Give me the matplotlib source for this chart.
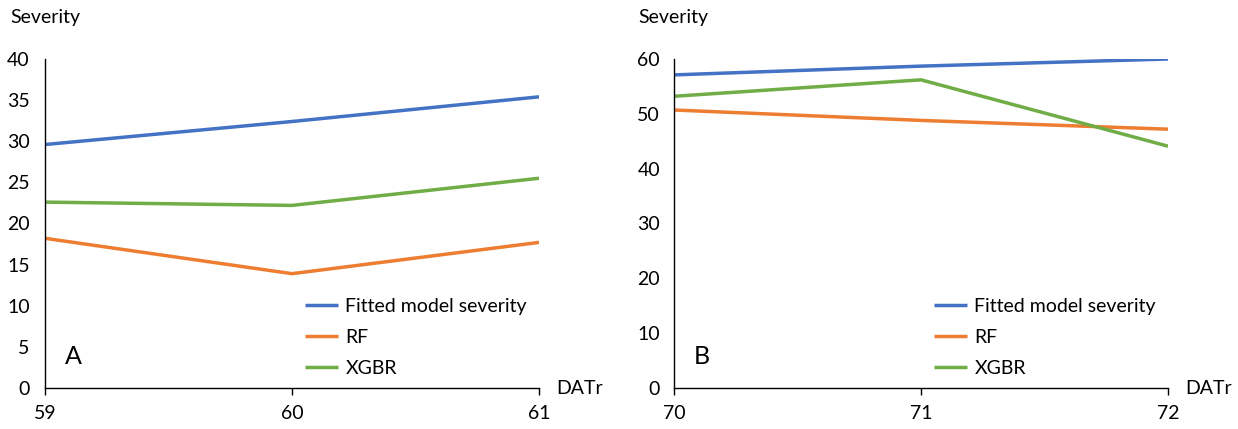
import matplotlib
matplotlib.use("Agg")
import matplotlib.pyplot as plt

plt.rcParams["font.family"] = ["Lato", "DejaVu Sans"]

series_names = ["Fitted model severity", "RF", "XGBR"]
colors = ["#4472C4", "#ED7D31", "#70AD47"]

# panel A
days_a = [59, 60, 61]
fitted_a = [29.6, 32.4, 35.4]
rf_a = [18.2, 13.9, 17.7]
xgbr_a = [22.6, 22.2, 25.5]

# panel B
days_b = [70, 71, 72]
fitted_b = [57.1, 58.7, 60.0]
rf_b = [50.7, 48.8, 47.2]
xgbr_b = [53.2, 56.2, 44.1]

W, H = 1238, 429
FS = 14
fig = plt.figure(figsize=(W / 100, H / 100), dpi=100)


def panel(left_px, days, ys, ymax, ystep, letter, ypad, sev_px):
    ax = fig.add_axes([left_px / W, 41 / H, 494 / W, 329 / H])
    for name, y, c in zip(series_names, ys, colors):
        ax.plot(days, y, color=c, linewidth=2.5, label=name, solid_capstyle="butt")
    ax.set_xlim(days[0], days[-1])
    ax.set_ylim(0, ymax)
    ax.set_xticks(days)
    ax.set_yticks(range(0, ymax + 1, ystep))
    for s in ("top", "right"):
        ax.spines[s].set_visible(False)
    for s in ("left", "bottom"):
        ax.spines[s].set_color("#000000")
        ax.spines[s].set_linewidth(1.0)
    ax.tick_params(axis="y", length=0, pad=ypad, labelsize=FS)
    ax.tick_params(axis="x", length=5, width=1.0, pad=7, labelsize=FS)
    ax.text(1.034, 0.0, "DATr", transform=ax.transAxes, fontsize=FS,
            ha="left", va="center")
    # "Severity" sits above the axis, left of the tick labels
    ax.text((sev_px - left_px) / 494, 1.125, "Severity", transform=ax.transAxes,
            fontsize=FS, ha="left", va="center")
    ax.text(0.04, 0.095, letter, transform=ax.transAxes, fontsize=18,
            ha="left", va="center")
    ax.legend(loc="lower left", bbox_to_anchor=(0.49, -0.02), frameon=False,
              fontsize=FS, handlelength=1.7, handletextpad=0.4,
              labelspacing=0.72)
    return ax


panel(45, days_a, [fitted_a, rf_a, xgbr_a], 40, 5, "A", 11, 10)
panel(674, days_b, [fitted_b, rf_b, xgbr_b], 60, 10, "B", 10, 638)

fig.savefig("out.png", dpi=100)
